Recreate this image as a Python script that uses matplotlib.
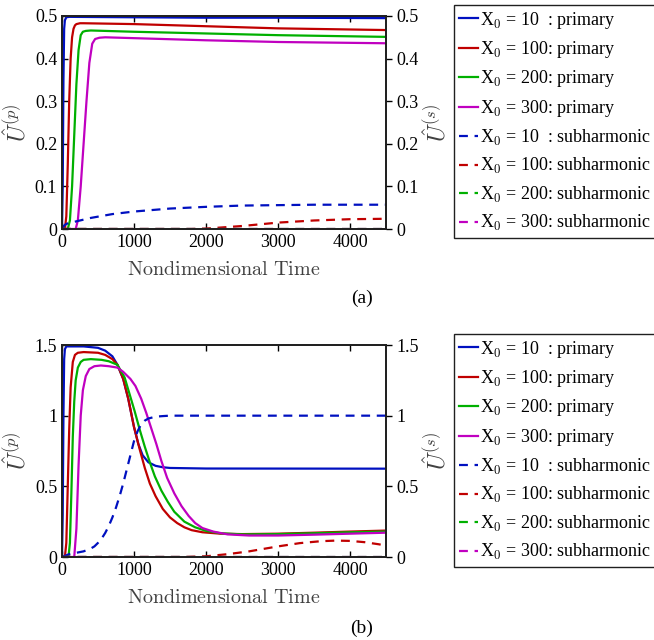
import matplotlib
matplotlib.use("Agg")
import matplotlib.pyplot as plt
import numpy as np

plt.rcParams['font.family'] = ['Liberation Serif', 'DejaVu Serif']
plt.rcParams['mathtext.fontset'] = 'cm'

# colours of the four X0 cases
colors = ['#0010c0', '#c00000', '#00b000', '#c000c0']
x0_labels = ['10  ', '100', '200', '300']

# ---- panel (a) ----
a_t_p = [
    [0, 10, 20, 30, 40, 60, 100, 1000, 2000, 3000, 4500],
    [0, 40, 60, 80, 100, 120, 140, 160, 180, 200, 250, 300, 1000, 2000, 3000, 4500],
    [0, 80, 110, 140, 170, 200, 230, 260, 290, 330, 400, 1000, 2000, 3000, 4500],
    [0, 190, 220, 260, 300, 340, 380, 420, 460, 520, 600, 1000, 2000, 3000, 4500],
]
a_u_p = [
    [0, 0.1, 0.35, 0.47, 0.49, 0.497, 0.498, 0.497, 0.496, 0.496, 0.495],
    [0, 0, 0.03, 0.15, 0.3, 0.40, 0.45, 0.47, 0.478, 0.481, 0.483, 0.483, 0.481, 0.476, 0.471, 0.467],
    [0, 0, 0.02, 0.1, 0.22, 0.34, 0.42, 0.455, 0.463, 0.465, 0.466, 0.463, 0.459, 0.455, 0.451],
    [0, 0, 0.02, 0.1, 0.2, 0.3, 0.39, 0.435, 0.446, 0.449, 0.45, 0.448, 0.443, 0.439, 0.436],
]
a_t_s = [
    [0, 30, 60, 100, 200, 400, 700, 1000, 1500, 2000, 2500, 3000, 3500, 4500],
    [0, 1800, 2000, 2500, 3000, 3500, 4000, 4500],
    [0, 4500],
    [0, 4500],
]
a_u_s = [
    [0, 0.008, 0.012, 0.014, 0.018, 0.026, 0.035, 0.041, 0.048, 0.052, 0.055, 0.056, 0.057, 0.057],
    [0, 0, 0.001, 0.007, 0.015, 0.02, 0.023, 0.024],
    [0, 0],
    [0, 0],
]

# ---- panel (b) ----
b_t_p = [
    [0, 10, 20, 30, 40, 60, 100, 300, 500, 600, 700, 770, 850, 920, 1000, 1060, 1120, 1200,
     1300, 1400, 1500, 2000, 4500],
    [0, 40, 60, 80, 100, 120, 150, 180, 220, 300, 500, 600, 700, 770, 850, 920, 1000, 1080,
     1150, 1220, 1300, 1400, 1500, 1600, 1700, 1800, 1950, 2200, 2500, 3000, 3500, 4000, 4500],
    [0, 90, 110, 130, 150, 170, 190, 220, 260, 300, 400, 550, 650, 770, 870, 940, 1010, 1080,
     1150, 1220, 1290, 1380, 1470, 1560, 1700, 1850, 2000, 2200, 2500, 3000, 3500, 4000, 4500],
    [0, 170, 200, 230, 260, 290, 330, 380, 450, 540, 650, 770, 850, 950, 1020, 1100, 1170, 1240,
     1310, 1380, 1460, 1560, 1660, 1760, 1850, 1950, 2100, 2300, 2600, 3000, 3500, 4000, 4500],
]
b_u_p = [
    [0, 0.3, 1.0, 1.4, 1.47, 1.49, 1.49, 1.49, 1.48, 1.46, 1.42, 1.36, 1.26, 1.12, 0.92, 0.8,
     0.72, 0.67, 0.645, 0.635, 0.63, 0.626, 0.625],
    [0, 0, 0.1, 0.5, 0.9, 1.2, 1.38, 1.43, 1.445, 1.45, 1.445, 1.43, 1.4, 1.36, 1.26, 1.12, 0.92,
     0.76, 0.63, 0.52, 0.43, 0.34, 0.28, 0.24, 0.21, 0.19, 0.175, 0.165, 0.162, 0.165, 0.172,
     0.18, 0.187],
    [0, 0, 0.1, 0.45, 0.85, 1.1, 1.25, 1.34, 1.38, 1.395, 1.4, 1.395, 1.385, 1.36, 1.27, 1.15,
     1.03, 0.9, 0.78, 0.67, 0.57, 0.47, 0.39, 0.32, 0.25, 0.21, 0.185, 0.168, 0.16, 0.162,
     0.168, 0.175, 0.18],
    [0, 0, 0.2, 0.65, 1.0, 1.18, 1.28, 1.33, 1.35, 1.355, 1.35, 1.34, 1.31, 1.26, 1.21, 1.12,
     1.02, 0.91, 0.8, 0.68, 0.56, 0.45, 0.36, 0.29, 0.24, 0.205, 0.18, 0.16, 0.152, 0.152,
     0.158, 0.165, 0.172],
]
b_t_s = [
    [0, 50, 100, 200, 300, 400, 450, 500, 550, 600, 650, 700, 750, 800, 850, 900, 950, 1000,
     1050, 1100, 1150, 1200, 1300, 1400, 1500, 2000, 4500],
    [0, 1700, 2000, 2300, 2600, 3000, 3300, 3600, 3800, 4000, 4200, 4400, 4500],
    [0, 4500],
    [0, 4500],
]
b_u_s = [
    [0, 0.01, 0.02, 0.03, 0.04, 0.06, 0.075, 0.1, 0.13, 0.17, 0.22, 0.28, 0.35, 0.43, 0.52,
     0.62, 0.72, 0.82, 0.89, 0.94, 0.965, 0.98, 0.993, 0.997, 1.0, 1.0, 1.0],
    [0, 0, 0.005, 0.02, 0.04, 0.075, 0.098, 0.112, 0.116, 0.114, 0.105, 0.09, 0.08],
    [0, 0],
    [0, 0],
]

fig = plt.figure(figsize=(6.54, 6.4), dpi=100)


def panel(rect, t_p, u_p, t_s, u_s, ymax, yticks, yticklabels, tag, tag_y, leg_top):
    ax = fig.add_axes(rect)
    handles = []
    for i in range(4):
        h, = ax.plot(t_p[i], u_p[i], color=colors[i], lw=1.6,
                     label='X$_0$ = %s: primary' % x0_labels[i])
        handles.append(h)
    for i in range(4):
        h, = ax.plot(t_s[i], u_s[i], color=colors[i], lw=1.6, ls=(0, (4, 3)),
                     label='X$_0$ = %s: subharmonic' % x0_labels[i])
        handles.append(h)
    ax.set_xlim(0, 4500)
    ax.set_ylim(0, ymax)
    ax.set_xticks([0, 1000, 2000, 3000, 4000])
    ax.set_yticks(yticks)
    ax.set_yticklabels(yticklabels)
    ax.tick_params(direction='in', top=True, labelsize=13, length=4, width=1)
    ax.tick_params(axis='y', right=False)
    for s in ax.spines.values():
        s.set_linewidth(1.3)
        s.set_color('#202020')
    ax.set_xlabel(r'$\mathrm{Nondimensional\ Time}$', fontsize=14.5, color='#404040', labelpad=7)
    ax.set_ylabel(r'$\hat{U}^{(p)}$', fontsize=17, color='#404040', labelpad=3)

    ax2 = ax.twinx()
    ax2.set_ylim(0, ymax)
    ax2.set_yticks(yticks)
    ax2.set_yticklabels(yticklabels)
    ax2.tick_params(direction='out', labelsize=13, length=4, width=1)
    for s in ax2.spines.values():
        s.set_linewidth(1.3)
        s.set_color('#202020')
    ax2.set_ylabel(r'$\hat{U}^{(s)}$', fontsize=17, color='#404040', labelpad=3)

    leg = fig.legend(handles=handles, loc='upper left',
                     bbox_to_anchor=(454 / 654, 1 - leg_top),
                     fontsize=13, handlelength=1.1, handletextpad=0.08,
                     labelspacing=0.47, borderpad=0.25, borderaxespad=0,
                     fancybox=False, framealpha=1, edgecolor='#202020')
    leg.get_frame().set_linewidth(1.0)
    fig.text(362 / 654, tag_y, tag, ha='center', va='center', fontsize=14)
    return ax


panel([62 / 654, 1 - 229 / 640, 324 / 654, 213 / 640], a_t_p, a_u_p, a_t_s, a_u_s,
      0.5, [0, 0.1, 0.2, 0.3, 0.4, 0.5], ['0', '0.1', '0.2', '0.3', '0.4', '0.5'],
      '(a)', 1 - 298 / 640, 5 / 640)
panel([62 / 654, 1 - 557 / 640, 324 / 654, 212 / 640], b_t_p, b_u_p, b_t_s, b_u_s,
      1.5, [0, 0.5, 1, 1.5], ['0', '0.5', '1', '1.5'],
      '(b)', 1 - 628 / 640, 334 / 640)

fig.savefig('out.png', dpi=100)
